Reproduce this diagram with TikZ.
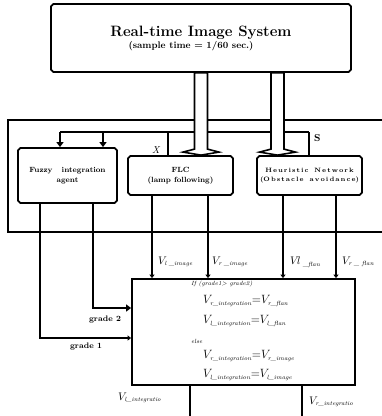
\documentclass[tikz,border=0pt]{standalone}
\usetikzlibrary{shapes.misc,arrows.meta,calc}
\newcommand\sbx[1]{_{\hbox{\fontsize{6}{7}\selectfont\itshape #1}}}
\begin{document}
\begin{tikzpicture}[x=1pt,y=-1pt,
  blk/.style={draw, line width=1.8pt, chamfered rectangle, chamfered rectangle xsep=1.2pt, chamfered rectangle ysep=1.2pt, inner sep=0pt, align=center},
  ln/.style={line width=1.8pt},
  tip/.style={ln, -{Triangle[width=7pt,length=5pt]}},
  smalltip/.style={ln, -{Triangle[width=5pt,length=3.5pt]}},
  lbl/.style={inner sep=0pt, anchor=west},
  vlab/.style={lbl, font=\fontsize{11}{13}\selectfont},
  eqn/.style={lbl, font=\fontsize{13}{15}\selectfont},
  boxtxt/.style={font=\bfseries\fontsize{7.5}{10}\selectfont}
]
\useasboundingbox (0,0) rectangle (382,416);

% boxes
\node[blk, minimum width=300pt, minimum height=68pt] (top) at (201,38)
  {{\fontsize{15}{17}\selectfont\bfseries Real-time Image System}\\[0pt]
   \hspace*{-20pt}{\fontsize{9.5}{11}\selectfont\bfseries (sample time = 1/60 sec.)}};
\node[blk, minimum width=99pt, minimum height=55pt, boxtxt] (fuzzy) at (67.5,175.5)
  {Fuzzy\ \ \ integration\\agent};
\node[blk, minimum width=105pt, minimum height=39pt, boxtxt] (flc) at (180.5,175.5)
  {FLC\\(lamp following)};
\node[blk, minimum width=105pt, minimum height=39pt, font=\bfseries\fontsize{6.3}{8.5}\selectfont] (heur) at (309.5,175.5)
  {H\,e\,u\,r\,i\,s\,t\,i\,c\ \ N\,e\,t\,w\,o\,r\,k\\(O\,b\,s\,t\,a\,c\,l\,e\ \ a\,v\,o\,i\,d\,a\,n\,c\,e)};
\node[blk, minimum width=223pt, minimum height=106pt] (big) at (243.5,332) {};

% outer loop
\coordinate (oTR) at (382,120);
\coordinate (oTL) at (8,120);
\coordinate (oBL) at (8,232);
\coordinate (oBR) at (382,232);
\draw[ln] (oTR) -- (oTL) -- (oBL) -- (oBR);

% feedback line X / S
\coordinate (fbL) at (60,132);
\coordinate (fb2) at (103,132);
\coordinate (fbX) at (168,132);
\coordinate (fbR) at (309,132);
\draw[ln] (fbL) -- (fbR);
\draw[tip] (fbL) -- (fbL |- fuzzy.north);
\draw[tip] (fb2) -- (fb2 |- fuzzy.north);
\draw[ln] (flc.north -| fbX) -- (fbX);
\draw[ln] (heur.north -| fbR) -- (fbR);
\node[lbl, font=\itshape\fontsize{10}{12}\selectfont] (xl) at (152,150) {X};
\node[lbl, font=\bfseries\fontsize{10}{12}\selectfont] (sl) at (314,138) {S};

% hollow arrows from image system
\coordinate (h1) at (201,0);
\coordinate (h2) at (277.5,0);
\foreach \h/\n in {h1/flc, h2/heur}{
  \draw[line width=1.6pt, fill=white, line join=miter]
    ($(top.south -| \h)+(-6.5,0)$) --
    ($(\n.north -| \h)+(-6.5,-6)$) --
    ($(\n.north -| \h)+(-18,-3)$) --
    ($(\n.north -| \h)+(0,0)$) --
    ($(\n.north -| \h)+(18,-3)$) --
    ($(\n.north -| \h)+(6.5,-6)$) --
    ($(top.south -| \h)+(6.5,0)$) -- cycle;
}

% grades from fuzzy agent
\coordinate (g1) at (40,338);
\coordinate (g2) at (93,308);
\draw[smalltip] (fuzzy.south -| g1) -- (g1) -- (big.west |- g1);
\draw[tip] (fuzzy.south -| g2) -- (g2) -- (big.west |- g2);
\node[font=\bfseries\fontsize{8}{10}\selectfont, inner sep=0pt] (gl2) at (105,320) {grade 2};
\node[font=\bfseries\fontsize{8}{10}\selectfont, inner sep=0pt] (gl1) at (86,347) {grade 1};

% velocities into decision box
\coordinate (v1) at (152,0);
\coordinate (v2) at (208,0);
\coordinate (v3) at (283,0);
\coordinate (v4) at (336,0);
\draw[smalltip] (flc.south -| v1) -- (big.north -| v1);
\draw[smalltip] (flc.south -| v2) -- (big.north -| v2);
\draw[smalltip] (heur.south -| v3) -- (big.north -| v3);
\draw[smalltip] (heur.south -| v4) -- (big.north -| v4);
\node[vlab] (lv1) at (158,262) {$V\sbx{l \_image}$};
\node[vlab] (lv2) at (212,262) {$V\sbx{r \_image}$};
\node[vlab] (lv3) at (290,262) {$V\!l\sbx{\ \_flan}$};
\node[vlab] (lv4) at (342,262) {$V\sbx{r \_ flan}$};

% decision text
\node[lbl, font=\itshape\fontsize{6}{7}\selectfont] (ift) at (191,284) {If (grade1> grade2)};
\node[eqn] (e1) at (203,301) {$V\sbx{r\_integration}{=}V\sbx{r\_flan}$};
\node[eqn] (e2) at (203,321) {$V\sbx{l\_integration}{=}V\sbx{l\_flan}$};
\node[lbl, font=\itshape\fontsize{6}{7}\selectfont] (elt) at (191,341) {else};
\node[eqn] (e3) at (203,356) {$V\sbx{r\_integration}{=}V\sbx{r\_image}$};
\node[eqn] (e4) at (203,375) {$V\sbx{l\_integration}{=}V\sbx{l\_image}$};

% outputs
\coordinate (o1) at (190,416);
\coordinate (o2) at (302,416);
\draw[ln] (big.south -| o1) -- (o1);
\draw[ln] (big.south -| o2) -- (o2);
\node[vlab] (lo1) at (118,398) {$V\sbx{l\_integratio}$};
\node[vlab] (lo2) at (309,402) {$V\sbx{r\_integratio}$};
\end{tikzpicture}
\end{document}
